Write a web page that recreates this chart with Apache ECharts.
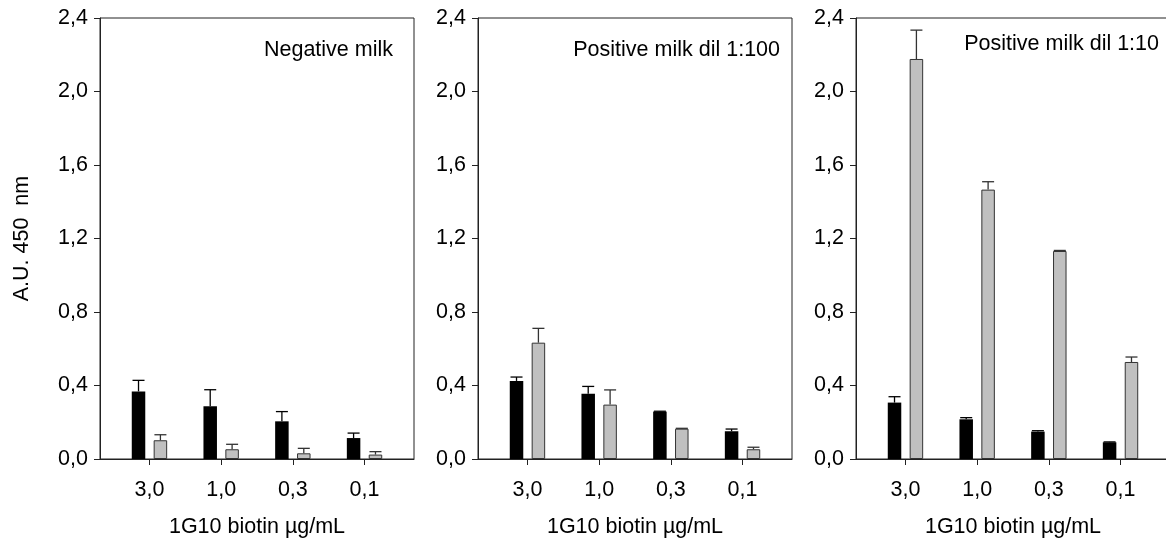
<!DOCTYPE html>
<html>
<head>
<meta charset="utf-8">
<script src="https://cdn.jsdelivr.net/npm/echarts@6/dist/echarts.min.js"></script>
<style>html,body{margin:0;padding:0;background:#fff}#c{width:1166px;height:546px}</style>
</head>
<body>
<div id="c"></div>
<script>
// ---- data ----
const xLabels = ['3,0', '1,0', '0,3', '0,1'];
const xPos = [1, 2, 3, 4];
const panelTitles = ['Negative milk', 'Positive milk dil 1:100', 'Positive milk dil 1:10'];
const yTicks = [0, 0.4, 0.8, 1.2, 1.6, 2.0, 2.4];

const negBlack = [0.368, 0.287, 0.205, 0.114];
const negBlackErr = [0.060, 0.090, 0.053, 0.027];
const negGray = [0.102, 0.053, 0.031, 0.024];
const negGrayErr = [0.030, 0.027, 0.027, 0.016];

const p100Black = [0.425, 0.355, 0.258, 0.151];
const p100BlackErr = [0.021, 0.040, 0.002, 0.012];
const p100Gray = [0.633, 0.296, 0.165, 0.053];
const p100GrayErr = [0.078, 0.080, 0.002, 0.011];

const p10Black = [0.307, 0.216, 0.149, 0.091];
const p10BlackErr = [0.032, 0.009, 0.005, 0.002];
const p10Gray = [2.177, 1.466, 1.132, 0.528];
const p10GrayErr = [0.157, 0.043, 0.003, 0.027];

const panels = [
  {black: negBlack, blackErr: negBlackErr, gray: negGray, grayErr: negGrayErr},
  {black: p100Black, blackErr: p100BlackErr, gray: p100Gray, grayErr: p100GrayErr},
  {black: p10Black, blackErr: p10BlackErr, gray: p10Gray, grayErr: p10GrayErr}
];

// ---- style ----
const FONT = 'Liberation Sans, Arial, sans-serif';
const FS = 21.5;
const BAR_W = 13.5;
const GAP = 8.4;
const OFF = (BAR_W + GAP) / 2;
const CAP = 12;
const gridLefts = [100, 478, 856];
const titleRights = [773, 386, 7];
const titleTops = [39, 39, 33];

const chart = echarts.init(document.getElementById('c'));

const grids = [], xAxes = [], yAxes = [], series = [], titles = [];

function errSeries(idx, vals, errs, sign, color) {
  return {
    type: 'custom',
    xAxisIndex: idx, yAxisIndex: idx,
    data: xPos.map((x, i) => [x, vals[i], vals[i] + errs[i]]),
    z: 5,
    renderItem: function (params, api) {
      const x = api.value(0);
      const p0 = api.coord([x, api.value(1)]);
      const p1 = api.coord([x, api.value(2)]);
      const cx = p0[0] + sign * OFF;
      return {
        type: 'group',
        children: [
          {type: 'line', shape: {x1: cx, y1: p0[1], x2: cx, y2: p1[1]}, style: {stroke: color, lineWidth: 1.3}},
          {type: 'line', shape: {x1: cx - CAP / 2, y1: p1[1], x2: cx + CAP / 2, y2: p1[1]}, style: {stroke: color, lineWidth: 1.3}}
        ]
      };
    }
  };
}

panels.forEach((p, i) => {
  grids.push({
    left: gridLefts[i], top: 18, width: 314, height: 441,
    show: true, borderColor: '#222', borderWidth: 1, backgroundColor: 'transparent',
    containLabel: false, outerBoundsMode: 'none'
  });
  xAxes.push({
    type: 'value', gridIndex: i, min: 0.31, max: 4.69,
    name: '1G10 biotin µg/mL', nameLocation: 'middle', nameGap: 57,
    nameTextStyle: {fontFamily: FONT, fontSize: FS, color: '#000'},
    axisLine: {show: true, lineStyle: {color: '#222', width: 1}},
    axisTick: {show: true, customValues: xPos, length: 6, lineStyle: {color: '#222'}},
    axisLabel: {
      customValues: xPos, margin: 20, fontFamily: FONT, fontSize: FS, color: '#000',
      formatter: v => xLabels[Math.round(v) - 1]
    },
    splitLine: {show: false}
  });
  yAxes.push({
    type: 'value', gridIndex: i, min: 0, max: 2.4, interval: 0.4,
    name: i === 0 ? 'A.U. 450  nm' : '', nameLocation: 'middle', nameGap: 67,
    nameTextStyle: {fontFamily: FONT, fontSize: FS, color: '#000'},
    axisLine: {show: true, lineStyle: {color: '#222', width: 1}},
    axisTick: {show: true, length: 6, lineStyle: {color: '#222'}},
    axisLabel: {
      margin: 12, fontFamily: FONT, fontSize: FS, color: '#000',
      formatter: v => v.toFixed(1).replace('.', ',')
    },
    splitLine: {show: false}
  });
  series.push({
    type: 'bar', xAxisIndex: i, yAxisIndex: i,
    data: xPos.map((x, k) => [x, p.black[k]]),
    barWidth: BAR_W, barGap: (GAP / BAR_W * 100).toFixed(1) + '%',
    itemStyle: {color: '#000'}
  });
  series.push({
    type: 'bar', xAxisIndex: i, yAxisIndex: i,
    data: xPos.map((x, k) => [x, p.gray[k]]),
    barWidth: BAR_W,
    itemStyle: {color: '#c0c0c0', borderColor: '#333', borderWidth: 1}
  });
  series.push(errSeries(i, p.black, p.blackErr, -1, '#000'));
  series.push(errSeries(i, p.gray, p.grayErr, 1, '#333'));
  titles.push({
    text: panelTitles[i], right: titleRights[i], top: titleTops[i], padding: 0,
    textStyle: {fontFamily: FONT, fontSize: FS, fontWeight: 'normal', color: '#000'}
  });
});

chart.setOption({
  animation: false,
  backgroundColor: '#fff',
  title: titles,
  grid: grids,
  xAxis: xAxes,
  yAxis: yAxes,
  series: series
});
</script>
</body>
</html>
